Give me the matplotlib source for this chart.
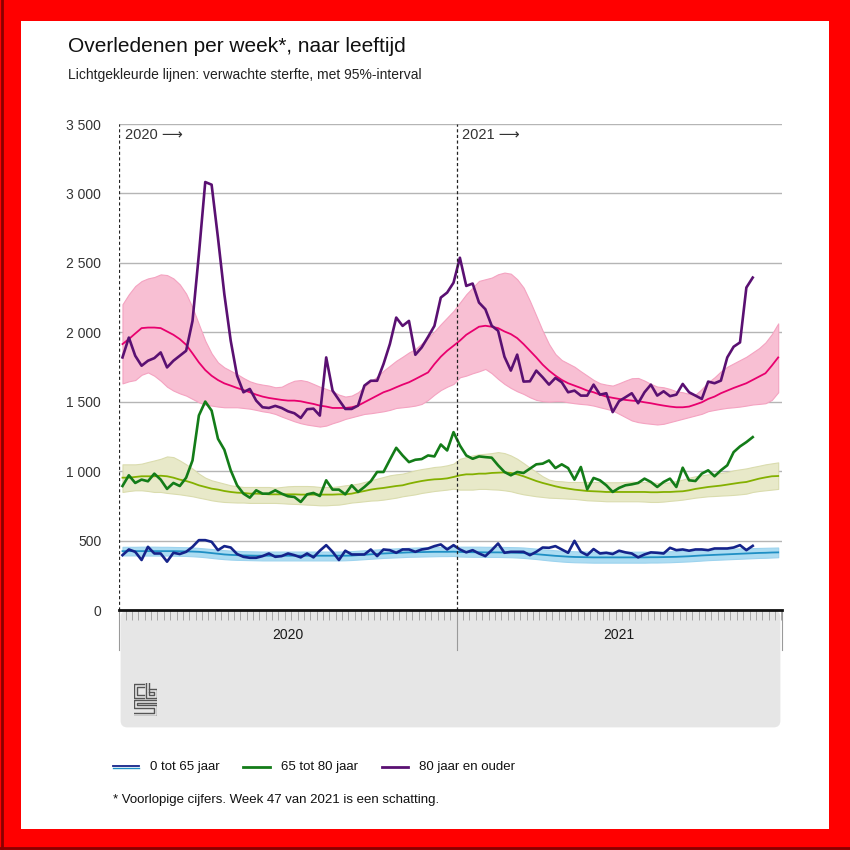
import numpy as np
import matplotlib
matplotlib.use("Agg")
import matplotlib.pyplot as plt
from matplotlib.patches import Rectangle, FancyBboxPatch
from matplotlib.lines import Line2D
import matplotlib.transforms as mtransforms

plt.rcParams["font.family"] = ["Liberation Sans", "DejaVu Sans"]

# weekly deaths, 2020 week 1 .. 2021 week 47
deaths_0_65 = [
    395, 436, 419, 360, 455, 407, 407, 348, 412, 403,
    419, 455, 503, 503, 491, 431, 460, 450, 403, 383,
    376, 376, 388, 407, 383, 388, 407, 395, 379, 407,
    379, 427, 467, 419, 360, 427, 400, 400, 400, 436,
    388, 436, 431, 412, 436, 436, 419, 436, 443, 460,
    472, 436, 467, 436, 415, 431, 407, 388, 431, 479,
    412, 419, 419, 419, 395, 419, 450, 448, 460, 436,
    412, 498, 419, 395, 439, 407, 412, 403, 427, 415,
    407, 379, 400, 415, 412, 407, 448, 431, 436, 427,
    436, 436, 431, 443, 443, 443, 450, 467, 431, 462,
]
deaths_65_80 = [
    893, 970, 915, 939, 927, 982, 939, 872, 915, 893,
    953, 1077, 1401, 1501, 1436, 1233, 1154, 1006, 898, 838,
    809, 862, 838, 838, 862, 838, 819, 814, 778, 833,
    843, 821, 934, 867, 867, 833, 898, 850, 886, 927,
    994, 994, 1082, 1168, 1113, 1065, 1082, 1087, 1113, 1106,
    1192, 1149, 1281, 1185, 1113, 1089, 1106, 1101, 1097, 1042,
    994, 970, 994, 987, 1018, 1049, 1054, 1077, 1022, 1049,
    1022, 939, 1030, 869, 951, 934, 898, 850, 879, 898,
    905, 915, 946, 922, 886, 922, 946, 886, 1025, 934,
    929, 982, 1006, 963, 1006, 1042, 1137, 1178, 1209, 1245,
]
deaths_80_plus = [
    1819, 1962, 1831, 1759, 1795, 1814, 1855, 1747, 1795, 1831,
    1867, 2082, 2561, 3082, 3063, 2680, 2274, 1939, 1687, 1568,
    1592, 1508, 1460, 1455, 1470, 1455, 1431, 1417, 1383, 1446,
    1450, 1400, 1819, 1580, 1513, 1448, 1448, 1472, 1616, 1651,
    1651, 1771, 1915, 2106, 2046, 2082, 1838, 1891, 1967, 2046,
    2250, 2286, 2357, 2537, 2334, 2351, 2214, 2166, 2047, 2011,
    1824, 1724, 1839, 1645, 1647, 1724, 1676, 1623, 1671, 1640,
    1568, 1580, 1544, 1544, 1623, 1551, 1561, 1425, 1504, 1532,
    1561, 1489, 1568, 1623, 1544, 1575, 1540, 1551, 1628, 1568,
    1544, 1520, 1645, 1633, 1652, 1819, 1896, 1927, 2322, 2394,
]

# expected mortality with 95% interval, 2020 week 1 .. 2021 week 51
exp_80_plus = [
    1915, 1951, 1991, 2030, 2034, 2034, 2030, 2006, 1982, 1951,
    1910, 1848, 1783, 1728, 1687, 1656, 1632, 1616, 1599, 1584,
    1568, 1551, 1537, 1527, 1520, 1513, 1508, 1508, 1503, 1493,
    1484, 1472, 1465, 1455, 1455, 1455, 1460, 1472, 1496, 1520,
    1544, 1568, 1584, 1604, 1623, 1640, 1663, 1687, 1711, 1771,
    1824, 1867, 1903,
    1940, 1982, 2011, 2040, 2047, 2040, 2030, 2006, 1987, 1958,
    1915, 1867, 1819, 1767, 1724, 1688, 1657, 1633, 1616, 1599,
    1580, 1568, 1551, 1537, 1528, 1520, 1513, 1508, 1504, 1496,
    1489, 1480, 1472, 1465, 1460, 1460, 1465, 1480, 1496, 1520,
    1537, 1561, 1580, 1599, 1616, 1633, 1657, 1681, 1705, 1760,
    1819,
]
exp_80_plus_hi = [
    2202, 2274, 2333, 2369, 2388, 2398, 2417, 2412, 2388, 2345,
    2278, 2178, 2058, 1939, 1848, 1783, 1747, 1723, 1699, 1671,
    1647, 1632, 1623, 1616, 1604, 1608, 1632, 1651, 1656, 1647,
    1628, 1608, 1592, 1575, 1551, 1537, 1544, 1568, 1608, 1647,
    1680, 1723, 1759, 1795, 1824, 1855, 1879, 1919, 1962, 2006,
    2058, 2106, 2154,
    2214, 2274, 2322, 2370, 2382, 2394, 2418, 2430, 2422, 2382,
    2322, 2226, 2119, 2011, 1915, 1843, 1800, 1776, 1752, 1719,
    1688, 1657, 1633, 1623, 1616, 1633, 1652, 1669, 1671, 1652,
    1628, 1609, 1604, 1592, 1575, 1568, 1556, 1551, 1592, 1640,
    1676, 1719, 1752, 1776, 1800, 1824, 1855, 1886, 1927, 1987,
    2064,
]
exp_80_plus_lo = [
    1632, 1647, 1656, 1694, 1711, 1687, 1651, 1608, 1580, 1560,
    1544, 1520, 1496, 1479, 1472, 1465, 1460, 1460, 1460, 1455,
    1450, 1441, 1431, 1424, 1412, 1393, 1376, 1359, 1345, 1335,
    1328, 1321, 1328, 1345, 1359, 1376, 1388, 1400, 1412, 1417,
    1424, 1431, 1441, 1455, 1460, 1465, 1472, 1484, 1513, 1551,
    1584, 1608, 1628,
    1676, 1688, 1705, 1719, 1736, 1705, 1664, 1628, 1599, 1575,
    1556, 1532, 1513, 1504, 1501, 1504, 1504, 1496, 1489, 1484,
    1480, 1472, 1460, 1449, 1437, 1413, 1389, 1365, 1353, 1346,
    1341, 1336, 1341, 1353, 1365, 1377, 1389, 1401, 1413, 1432,
    1441, 1449, 1456, 1460, 1465, 1472, 1480, 1484, 1489, 1513,
    1568,
]
exp_65_80 = [
    953, 953, 958, 963, 963, 963, 967, 963, 953, 939,
    929, 915, 898, 886, 874, 867, 857, 850, 845, 843,
    838, 838, 836, 833, 833, 833, 833, 833, 831, 831,
    831, 831, 831, 831, 833, 833, 838, 848, 857, 867,
    874, 879, 886, 893, 898, 910, 920, 929, 936, 941,
    943, 948, 958,
    970, 977, 977, 982, 982, 987, 989, 991, 987, 977,
    963, 946, 929, 915, 903, 891, 881, 874, 867, 862,
    857, 855, 853, 850, 850, 850, 850, 850, 850, 850,
    848, 848, 850, 850, 853, 855, 862, 872, 879, 886,
    891, 896, 903, 910, 917, 922, 934, 946, 955, 963,
    965,
]
exp_65_80_hi = [
    1049, 1049, 1049, 1054, 1066, 1077, 1089, 1106, 1101, 1077,
    1049, 1018, 982, 953, 934, 922, 910, 898, 891, 886,
    886, 886, 886, 886, 881, 886, 891, 893, 893, 893,
    891, 886, 886, 886, 891, 898, 903, 910, 922, 934,
    946, 958, 970, 977, 982, 994, 1006, 1015, 1022, 1030,
    1034, 1042, 1054,
    1089, 1101, 1113, 1121, 1125, 1130, 1137, 1130, 1113, 1089,
    1058, 1025, 994, 963, 939, 929, 927, 922, 922, 922,
    922, 922, 922, 920, 920, 920, 922, 924, 922, 922,
    920, 915, 915, 920, 929, 939, 953, 963, 970, 977,
    982, 987, 994, 1006, 1013, 1020, 1030, 1039, 1049, 1056,
    1063,
]
exp_65_80_lo = [
    850, 857, 862, 862, 857, 850, 850, 843, 838, 833,
    826, 819, 809, 800, 790, 783, 778, 776, 774, 774,
    771, 771, 771, 771, 771, 769, 766, 764, 762, 759,
    757, 754, 754, 757, 759, 766, 774, 778, 783, 788,
    790, 795, 802, 809, 819, 826, 833, 843, 850, 857,
    862, 867, 874,
    867, 867, 867, 872, 872, 869, 867, 862, 855, 843,
    833, 826, 819, 814, 809, 807, 805, 802, 800, 795,
    790, 788, 786, 783, 783, 783, 783, 783, 783, 781,
    778, 778, 781, 786, 790, 795, 802, 809, 814, 819,
    821, 824, 826, 829, 833, 838, 850, 857, 862, 867,
    872,
]
exp_0_65 = [
    424, 424, 424, 424, 424, 424, 424, 424, 424, 423,
    422, 421, 419, 415, 410, 405, 400, 397, 395, 393,
    392, 391, 391, 391, 391, 391, 391, 391, 391, 391,
    391, 391, 391, 391, 391, 391, 392, 395, 398, 401,
    404, 407, 409, 411, 413, 415, 416, 417, 418, 419,
    419, 419, 420,
    418, 417, 416, 416, 415, 415, 415, 414, 413, 412,
    410, 406, 402, 398, 394, 390, 387, 384, 382, 381,
    380, 379, 379, 379, 379, 379, 379, 379, 379, 379,
    380, 380, 381, 382, 383, 385, 387, 390, 393, 395,
    397, 399, 401, 403, 405, 407, 409, 411, 412, 414,
    415,
]
exp_0_65_hi = [
    455, 455, 455, 456, 456, 456, 455, 455, 454, 453,
    452, 450, 447, 443, 439, 435, 431, 428, 426, 424,
    423, 422, 421, 421, 421, 421, 421, 421, 421, 421,
    421, 421, 421, 421, 421, 422, 424, 427, 430, 433,
    436, 439, 442, 444, 446, 448, 450, 451, 452, 453,
    454, 455, 456,
    456, 456, 456, 456, 455, 455, 455, 454, 453, 452,
    450, 446, 442, 438, 434, 430, 427, 425, 423, 422,
    421, 420, 420, 420, 420, 420, 420, 420, 420, 420,
    420, 421, 422, 423, 424, 426, 428, 430, 432, 434,
    436, 438, 440, 442, 444, 445, 446, 447, 448, 449,
    450,
]
exp_0_65_lo = [
    393, 393, 393, 392, 392, 392, 392, 392, 391, 390,
    389, 387, 384, 380, 375, 370, 366, 363, 361, 360,
    359, 358, 357, 357, 357, 357, 357, 357, 357, 357,
    357, 357, 357, 357, 357, 358, 360, 363, 366, 369,
    372, 375, 377, 379, 381, 383, 384, 385, 386, 387,
    388, 388, 389,
    385, 384, 383, 383, 382, 382, 382, 381, 380, 378,
    375, 371, 367, 362, 357, 353, 349, 346, 344, 343,
    342, 341, 341, 341, 341, 341, 341, 341, 341, 341,
    342, 342, 343, 344, 346, 348, 350, 353, 356, 359,
    361, 363, 365, 367, 369, 371, 373, 375, 376, 378,
    380,
]

years = ["2020", "2021"]
weeks_2020 = 53
y_ticks = [0, 500, 1000, 1500, 2000, 2500, 3000, 3500]
y_labels = ["0", "500", "1 000", "1 500", "2 000", "2 500", "3 000", "3 500"]
legend_labels = ["0 tot 65 jaar", "65 tot 80 jaar", "80 jaar en ouder"]

NAVY = "#15238a"
GREEN = "#137c18"
PURPLE = "#5a1072"
LIGHTBLUE = "#1f8fc4"
OLIVE = "#84b000"
PINK = "#e8006e"

W, H = 850, 850
fig = plt.figure(figsize=(8.5, 8.5), dpi=100)
fig.patch.set_facecolor("#ff0000")


def fx(px):
    return px / W


def fy(py):
    return (H - py) / H


# white card inside the red frame
fig.add_artist(Rectangle((fx(21), fy(829)), fx(808), 808 / H, facecolor="white",
                         edgecolor="none", transform=fig.transFigure, zorder=0))
fig.add_artist(Line2D([fx(2), fx(2)], [0, 1], color="#8a0000", lw=2, transform=fig.transFigure))
fig.add_artist(Line2D([0, 1], [fy(848), fy(848)], color="#8a0000", lw=2, transform=fig.transFigure))

# grey band under the axis
fig.add_artist(FancyBboxPatch((fx(124), fy(724)), fx(653), (724 - 614) / H,
                              boxstyle="round,pad=0.004,rounding_size=0.008",
                              facecolor="#e6e6e6", edgecolor="none",
                              transform=fig.transFigure, zorder=1))

ax = fig.add_axes([fx(119.3), fy(610), fx(662.4), 486 / H])
ax.set_facecolor("none")
ax.set_zorder(2)

x_act = np.arange(len(deaths_80_plus))
x_exp = np.arange(len(exp_80_plus))

# expected bands and lines
ax.fill_between(x_exp, exp_80_plus_lo, exp_80_plus_hi, color="#f8bfd3", lw=0.8,
                edgecolor="#f4a3c1", zorder=2)
ax.fill_between(x_exp, exp_65_80_lo, exp_65_80_hi, color="#e8e9c9", lw=0.8,
                edgecolor="#dadcae", zorder=2)
ax.fill_between(x_exp, exp_0_65_lo, exp_0_65_hi, color="#acdcf2", lw=0.8,
                edgecolor="#9dd3ee", zorder=2)
ax.plot(x_exp, exp_80_plus, color=PINK, lw=1.3, zorder=3)
ax.plot(x_exp, exp_65_80, color=OLIVE, lw=1.3, zorder=3)
ax.plot(x_exp, exp_0_65, color=LIGHTBLUE, lw=1.3, zorder=3)

# actual deaths
ax.plot(x_act, deaths_0_65, color=NAVY, lw=1.9, zorder=4)
ax.plot(x_act, deaths_65_80, color=GREEN, lw=1.9, zorder=4)
ax.plot(x_act, deaths_80_plus, color=PURPLE, lw=1.9, zorder=4)

x_right = 103.55
ax.set_xlim(-0.5, x_right)
ax.set_ylim(0, 3500)
ax.set_yticks(y_ticks)
ax.set_yticklabels(y_labels, fontsize=10, color="#333333")
ax.tick_params(axis="y", length=0, pad=13)
ax.yaxis.grid(True, color="#b5b5b5", lw=1)
ax.set_axisbelow(True)
for s in ["left", "right", "top"]:
    ax.spines[s].set_visible(False)
ax.spines["bottom"].set_linewidth(2)
ax.spines["bottom"].set_color("#111111")
ax.spines["bottom"].set_zorder(6)

# weekly ticks
ax.set_xticks(np.arange(-0.5, x_right, 1))
ax.set_xticklabels([])
ax.tick_params(axis="x", direction="out", length=7, width=0.7, color="#a8a8a8")

# year boundaries
for xb in [-0.5, weeks_2020 - 0.5]:
    ax.axvline(xb, color="#222222", lw=0.9, ls=(0, (2.5, 2)), zorder=5)
trans = mtransforms.blended_transform_factory(ax.transData, ax.transAxes)
for xb in [-0.5, weeks_2020 - 0.5, x_right]:
    ax.plot([xb, xb], [0, -40 / 486], color="#9a9a9a", lw=0.8, transform=trans, clip_on=False)

year_centers = [(-0.5 + weeks_2020 - 0.5) / 2, (weeks_2020 - 0.5 + x_right) / 2]
for xc, yr in zip(year_centers, years):
    ax.text(xc, -25 / 486, yr, transform=trans, ha="center", va="center",
            fontsize=10, color="#1a1a1a")

fig.text(fx(125), fy(135), years[0] + " \u27f6", fontsize=10.5, color="#333333", va="center")
fig.text(fx(462), fy(135), years[1] + " \u27f6", fontsize=10.5, color="#333333", va="center")

# title
fig.text(fx(68), fy(47), "Overledenen per week*, naar leeftijd", fontsize=15,
         color="#111111", va="center")
fig.text(fx(68), fy(75), "Lichtgekleurde lijnen: verwachte sterfte, met 95%-interval",
         fontsize=10, color="#222222", va="center")

# cbs logo (rough line drawing)
lax = fig.add_axes([fx(134), fy(716), fx(23), 33 / H])
lax.set_zorder(3)
lax.set_xlim(0, 23)
lax.set_ylim(0, 33)
lax.axis("off")
lc = "#555555"
logo_paths = [
    ([10, 0, 0, 10], [32, 32, 18, 18]),
    ([10, 3, 3, 10], [29, 29, 21, 21]),
    ([12, 12, 23, 23, 15], [33, 18, 18, 27, 27]),
    ([15, 15, 20, 20, 15], [33, 21, 21, 24, 24]),
    ([22, 0, 0, 20, 20, 0], [16, 16, 8, 8, 3, 3]),
    ([22, 3, 3, 23, 23, 0, 0], [13, 13, 11, 11, 0, 0, 0]),
]
for px, py in logo_paths:
    lax.plot(px, py, color=lc, lw=1.0)

# legend
legend_items = [
    (113, 139, 150, [NAVY, LIGHTBLUE]),
    (243, 270, 281, [GREEN]),
    (382, 408, 419, [PURPLE]),
]
for (x0, x1, xt, cols), lab in zip(legend_items, legend_labels):
    if len(cols) == 2:
        fig.add_artist(Line2D([fx(x0), fx(x1)], [fy(766.2), fy(766.2)], color=cols[0],
                              lw=1.3, transform=fig.transFigure))
        fig.add_artist(Line2D([fx(x0), fx(x1)], [fy(767.8), fy(767.8)], color=cols[1],
                              lw=1.0, transform=fig.transFigure))
    else:
        fig.add_artist(Line2D([fx(x0), fx(x1)], [fy(767), fy(767)], color=cols[0],
                              lw=2.0, transform=fig.transFigure))
    fig.text(fx(xt), fy(767), lab, fontsize=9.5, color="#111111", va="center")

fig.text(fx(113), fy(800), "* Voorlopige cijfers. Week 47 van 2021 is een schatting.",
         fontsize=9.5, color="#111111", va="center")

fig.savefig("out.png", dpi=100, facecolor=fig.get_facecolor())
